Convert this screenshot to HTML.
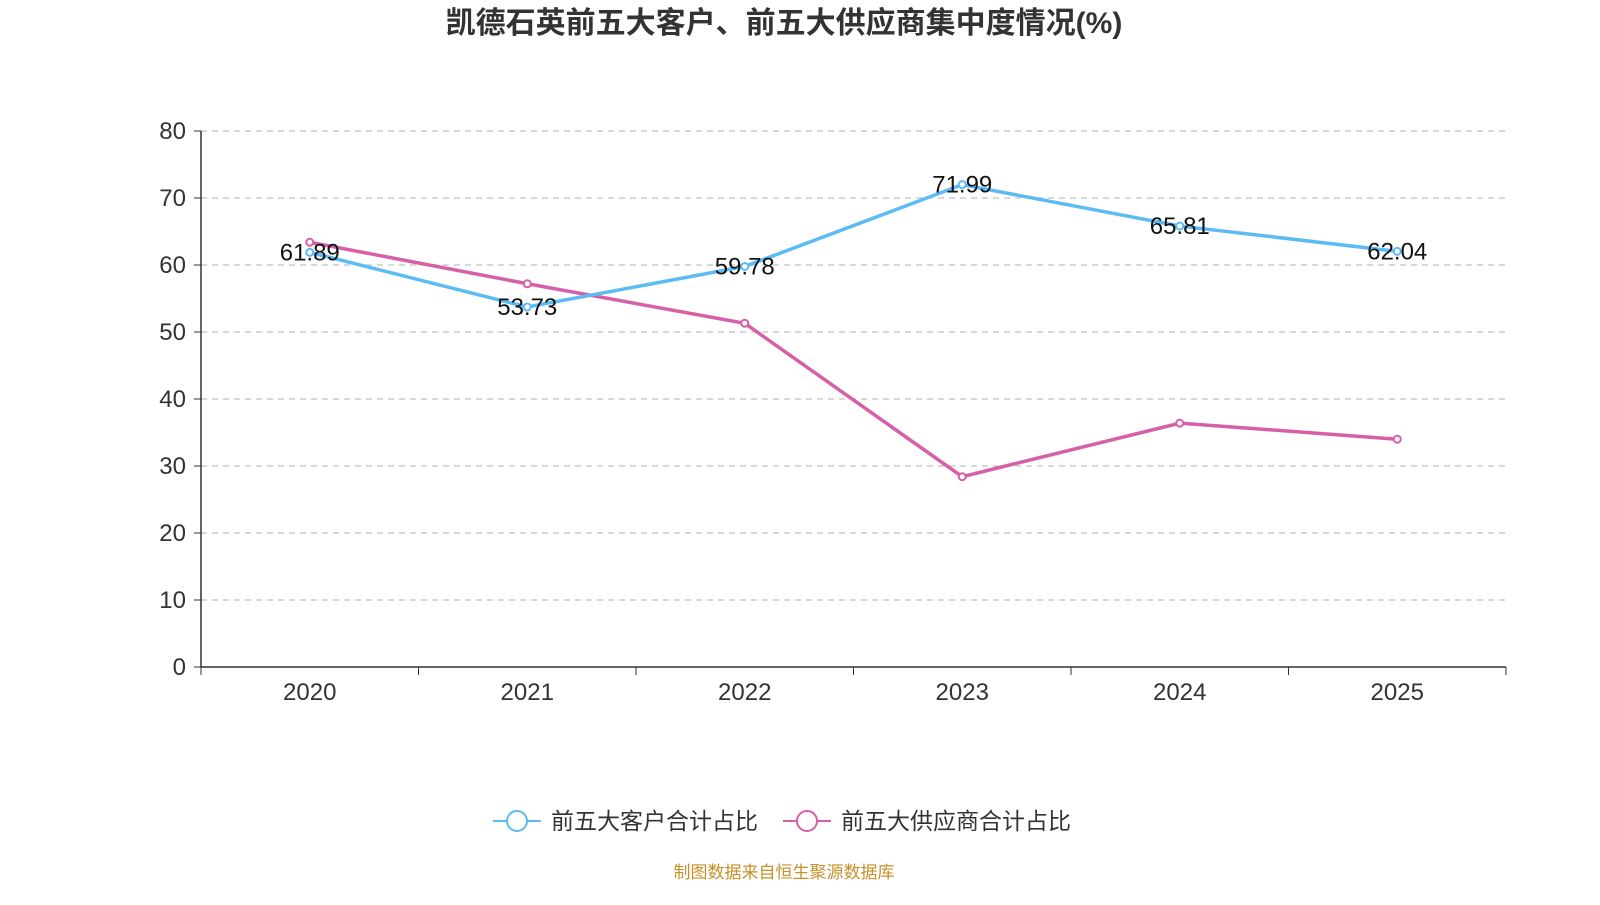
<!DOCTYPE html>
<html><head><meta charset="utf-8"><style>
body{margin:0;background:#fff;}
svg text{font-family:"Liberation Sans","Noto Sans CJK SC",sans-serif;}
</style></head><body>
<svg id="chart" width="1600" height="900">
<text x="784" y="33" text-anchor="middle" font-size="30" font-weight="bold" fill="#333">凯德石英前五大客户、前五大供应商集中度情况(%)</text>
<g id="grid"></g><g id="axes"></g><g id="series"></g><g id="labels"></g>
<g>
<line x1="493" y1="821" x2="541" y2="821" stroke="#5bbcf5" stroke-width="2"/>
<circle cx="517" cy="821" r="10" fill="#fff" stroke="#5bbcf5" stroke-width="2"/>
<text x="551" y="829" font-size="23" fill="#333">前五大客户合计占比</text>
<line x1="783" y1="821" x2="831" y2="821" stroke="#d65fa8" stroke-width="2"/>
<circle cx="807" cy="821" r="10" fill="#fff" stroke="#d65fa8" stroke-width="2"/>
<text x="841" y="829" font-size="23" fill="#333">前五大供应商合计占比</text>
</g>
<text x="784" y="878" text-anchor="middle" font-size="17" fill="#c8902a">制图数据来自恒生聚源数据库</text>
</svg>
<script>
const categories=["2020","2021","2022","2023","2024","2025"];
const customers=[61.89,53.73,59.78,71.99,65.81,62.04];
const suppliers=[63.4,57.2,51.3,28.4,36.4,34.0];
const yTicks=[0,10,20,30,40,50,60,70,80];
const NS="http://www.w3.org/2000/svg";
const x0=201,x1=1506,y0=667,y1=131,yMax=80;
const bw=(x1-x0)/categories.length;
const xs=i=>x0+bw*(i+0.5);
const ys=v=>y0-(v/yMax)*(y0-y1);
function mk(p,t,a){const e=document.createElementNS(NS,t);for(const k in a)e.setAttribute(k,a[k]);document.getElementById(p).appendChild(e);return e;}
yTicks.forEach(t=>{
 if(t>0){const g=mk("grid","line",{x1:x0,x2:x1,y1:ys(t),y2:ys(t),stroke:"#ccc","stroke-dasharray":"6,5","stroke-width":1.5});
 
 }
 mk("axes","line",{x1:x0-7,x2:x0,y1:ys(t),y2:ys(t),stroke:"#333"});
 const l=mk("axes","text",{x:x0-15,y:ys(t)+8,"text-anchor":"end","font-size":24,fill:"#333"});l.textContent=t;
 
 
});
mk("axes","line",{x1:x0,x2:x0,y1:y1,y2:y0,stroke:"#333","stroke-width":1.5});
mk("axes","line",{x1:x0,x2:x1,y1:y0,y2:y0,stroke:"#333","stroke-width":1.5});
for(let i=0;i<=categories.length;i++)mk("axes","line",{x1:x0+bw*i,x2:x0+bw*i,y1:y0,y2:y0+8,stroke:"#333"});
categories.forEach((c,i)=>{const t=mk("axes","text",{x:xs(i),y:y0+33,"text-anchor":"middle","font-size":24,fill:"#333"});t.textContent=c;
 
 });
function series(vals,col,name,lab){
 const p=mk("series","polyline",{points:vals.map((v,i)=>xs(i)+","+ys(v)).join(" "),fill:"none",stroke:col,"stroke-width":3.5});
 
 
 vals.forEach((v,i)=>{const c=mk("series","circle",{cx:xs(i),cy:ys(v),r:3.5,fill:"#fff",stroke:col,"stroke-width":2});
  
  
  if(lab){const t=mk("labels","text",{x:xs(i),y:ys(v)+8,"text-anchor":"middle","font-size":24,fill:"#111"});t.textContent=v.toFixed(2);
  
  }
 });
}
series(suppliers,"#d65fa8","suppliers",false);
series(customers,"#5bbcf5","customers",true);
</script>
</body></html>
